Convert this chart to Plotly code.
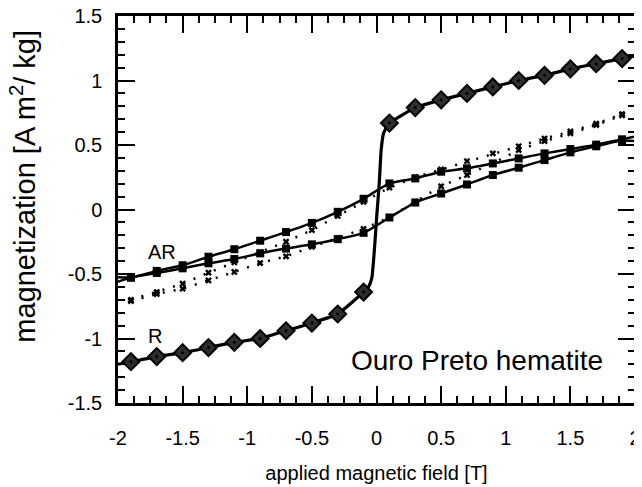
import plotly.graph_objects as go

# ---------------- data ----------------
field_pts = [-1.9, -1.7, -1.5, -1.3, -1.1, -0.9, -0.7, -0.5, -0.3, -0.1,
             0.1, 0.3, 0.5, 0.7, 0.9, 1.1, 1.3, 1.5, 1.7, 1.9]

r_marker_y = [-1.18, -1.14, -1.11, -1.07, -1.03, -1.00, -0.94, -0.88, -0.81, -0.64,
              0.67, 0.79, 0.85, 0.90, 0.95, 1.00, 1.04, 1.09, 1.13, 1.17]
r_line_x = [-2.0, -1.9, -1.7, -1.5, -1.3, -1.1, -0.9, -0.7, -0.5, -0.3, -0.1,
            -0.062, -0.036, -0.016, 0.002, 0.021, 0.036, 0.054, 0.08,
            0.1, 0.3, 0.5, 0.7, 0.9, 1.1, 1.3, 1.5, 1.7, 1.9, 2.0]
r_line_y = [-1.20, -1.18, -1.14, -1.11, -1.07, -1.03, -1.00, -0.94, -0.88, -0.81, -0.64,
            -0.60, -0.53, -0.31, -0.05, 0.20, 0.46, 0.59, 0.64,
            0.67, 0.79, 0.85, 0.90, 0.95, 1.00, 1.04, 1.09, 1.13, 1.17, 1.19]

ar_upper = [-0.527, -0.476, -0.432, -0.366, -0.308, -0.242, -0.175, -0.104, -0.018, 0.083,
            0.202, 0.241, 0.293, 0.319, 0.357, 0.396, 0.435, 0.469, 0.503, 0.544]
ar_lower = [-0.528, -0.492, -0.456, -0.417, -0.384, -0.340, -0.303, -0.270, -0.230, -0.181,
            -0.062, 0.054, 0.124, 0.194, 0.267, 0.324, 0.383, 0.443, 0.490, 0.534]
ar_line_x = [-2.0] + field_pts + [2.0]
ar_upper_line = [-0.525] + ar_upper + [0.565]
ar_lower_line = [-0.560] + ar_lower + [0.530]

arx_upper = [-0.70, -0.64, -0.575, -0.49, -0.41, -0.33, -0.25, -0.16, -0.05, 0.06,
             0.17, 0.25, 0.31, 0.375, 0.435, 0.49, 0.55, 0.605, 0.665, 0.74]
arx_lower = [-0.71, -0.655, -0.614, -0.55, -0.484, -0.415, -0.363, -0.29, -0.22, -0.15,
             -0.06, 0.06, 0.18, 0.267, 0.36, 0.46, 0.53, 0.59, 0.655, 0.73]

x_ticks = [-2, -1.5, -1, -0.5, 0, 0.5, 1, 1.5, 2]
y_ticks = [-1.5, -1, -0.5, 0, 0.5, 1, 1.5]

FONT = "Arial, Liberation Sans, sans-serif"

fig = go.Figure()

for yy in (arx_upper, arx_lower):
    fig.add_trace(go.Scatter(
        x=field_pts, y=yy, mode="lines+markers",
        line=dict(color="black", width=2.5, dash="2px,9px"),
        marker=dict(symbol="x", size=6, color="black", line=dict(width=0)),
        showlegend=False, hoverinfo="skip"))

for yy in (ar_upper_line, ar_lower_line):
    fig.add_trace(go.Scatter(
        x=ar_line_x, y=yy, mode="lines", line=dict(color="black", width=2.5, shape="spline", smoothing=0.6),
        showlegend=False, hoverinfo="skip"))
for yy in (ar_upper, ar_lower):
    fig.add_trace(go.Scatter(
        x=field_pts, y=yy, mode="markers",
        marker=dict(symbol="square", size=8, color="black"),
        showlegend=False, hoverinfo="skip"))

fig.add_trace(go.Scatter(
    x=r_line_x, y=r_line_y, mode="lines",
    line=dict(color="black", width=3.2, shape="spline", smoothing=0.4),
    showlegend=False, hoverinfo="skip"))
fig.add_trace(go.Scatter(
    x=field_pts, y=r_marker_y, mode="markers",
    marker=dict(symbol="diamond-dot", size=13, color="#2e2e2e",
                line=dict(color="black", width=2)),
    showlegend=False, hoverinfo="skip"))

axis_common = dict(
    showgrid=False, zeroline=False, showline=True, linecolor="black", linewidth=2.5,
    mirror="allticks", ticks="inside", ticklen=17, tickwidth=2, tickcolor="black",
    tickfont=dict(family=FONT, size=20, color="black"), automargin=False,
    ticklabeloverflow="allow",
)

fig.update_xaxes(
    range=[-2, 2], tickvals=x_ticks, ticktext=[f"{v:g}" for v in x_ticks],
    minor=dict(ticks="inside", ticklen=7, tickwidth=2, tickcolor="black", dtick=0.125, tick0=0),
    ticklabelstandoff=15,
    title=dict(text="applied magnetic field [T]", font=dict(family=FONT, size=20, color="black"), standoff=19),
    **axis_common)
fig.update_yaxes(
    range=[-1.5, 1.5], tickvals=y_ticks, ticktext=[f"{v:g}" for v in y_ticks],
    minor=dict(ticks="inside", ticklen=7, tickwidth=2, tickcolor="black", dtick=0.1, tick0=0),
    ticklabelstandoff=9,
    **axis_common)

# y-axis title (placed as rotated text, slightly above the axis centre as in the original)
fig.add_annotation(xref="paper", yref="paper", x=-0.184, y=0.561,
                   text="magnetization [A m<sup>2</sup>/ kg]", textangle=-90, showarrow=False,
                   xanchor="center", yanchor="middle",
                   font=dict(family=FONT, size=29, color="black"))

fig.add_annotation(x=-1.66, y=-0.33, text="AR", showarrow=False,
                   font=dict(family=FONT, size=20, color="black"))
fig.add_annotation(x=-1.715, y=-0.98, text="R", showarrow=False,
                   font=dict(family=FONT, size=20, color="black"))
fig.add_annotation(x=1.77, y=-1.174, text="Ouro Preto hematite", showarrow=False,
                   xanchor="right", font=dict(family=FONT, size=28, color="black"))

# the page adds an 8px body margin, so the figure is sized to fit the window
fig.update_layout(
    width=634, height=479,
    margin=dict(l=110, r=7, t=8, b=84),
    plot_bgcolor="white", paper_bgcolor="white",
)

fig.write_html("out.html")
